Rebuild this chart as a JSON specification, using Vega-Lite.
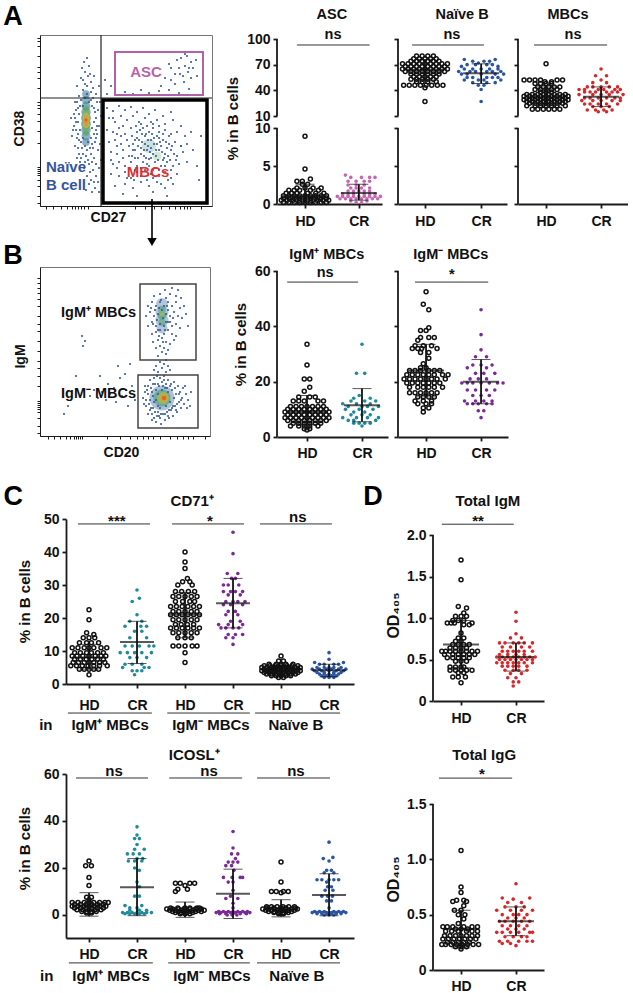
{"$schema":"https://vega.github.io/schema/vega-lite/v6.json","padding":0,"background":"white","spacing":22,
"config":{"view":{"stroke":null},"axis":{"grid":false,"labelOverlap":false,"domainColor":"#1a1a1a","tickColor":"#1a1a1a","domainWidth":1.8,"tickWidth":1.8,"tickSize":4,"labelFont":"Liberation Sans","labelFontWeight":"bold","labelFontSize":14,"labelColor":"#111","titleFont":"Liberation Sans","titleFontWeight":"bold","titleFontSize":15,"titleColor":"#111"},"text":{"font":"Liberation Sans","fontWeight":"bold","fontSize":14.5,"color":"#111"}},
"datasets":{
"fa":[{"x":36,"y":120},{"x":40,"y":128},{"x":44,"y":134},{"x":48,"y":140},{"x":42,"y":116},{"x":50,"y":124},{"x":46,"y":112},{"x":52,"y":118},{"x":38,"y":110},{"x":55,"y":112},{"x":44,"y":122},{"x":47,"y":130},{"x":41,"y":138},{"x":53,"y":130},{"x":58,"y":120},{"x":34,"y":104},{"x":37,"y":98},{"x":33,"y":92},{"x":35,"y":84},{"x":32,"y":76},{"x":36,"y":68},{"x":34,"y":60},{"x":38,"y":52},{"x":36,"y":104},{"x":56,"y":104},{"x":57,"y":96},{"x":55,"y":88},{"x":58,"y":80},{"x":56,"y":72},{"x":54,"y":64},{"x":57,"y":56},{"x":53,"y":48},{"x":39,"y":44},{"x":43,"y":38},{"x":48,"y":42},{"x":52,"y":36},{"x":46,"y":30},{"x":50,"y":26},{"x":55,"y":30},{"x":42,"y":52},{"x":46,"y":56},{"x":50,"y":52},{"x":44,"y":60},{"x":52,"y":58},{"x":40,"y":64},{"x":50,"y":68},{"x":48,"y":22},{"x":54,"y":18},{"x":51,"y":14},{"x":57,"y":24},{"x":58,"y":38},{"x":60,"y":46},{"x":59,"y":62},{"x":30,"y":88},{"x":31,"y":70},{"x":60,"y":90},{"x":59,"y":104},{"x":42,"y":100},{"x":50,"y":106},{"x":38,"y":92},{"x":53,"y":98},{"x":39,"y":76},{"x":51,"y":78},{"x":36,"y":48},{"x":47,"y":46},{"x":55,"y":42},{"x":58,"y":14},{"x":45,"y":16},{"x":40,"y":106},{"x":44,"y":108},{"x":48,"y":104},{"x":52,"y":108},{"x":35,"y":96},{"x":39,"y":100},{"x":51,"y":100},{"x":54,"y":94},{"x":34,"y":88},{"x":37,"y":84},{"x":53,"y":84},{"x":56,"y":80},{"x":33,"y":80},{"x":37,"y":72},{"x":53,"y":72},{"x":55,"y":76},{"x":35,"y":76},{"x":38,"y":66},{"x":42,"y":68},{"x":47,"y":64},{"x":51,"y":62},{"x":55,"y":68},{"x":41,"y":58},{"x":49,"y":58},{"x":37,"y":58},{"x":45,"y":50},{"x":40,"y":48},{"x":51,"y":44},{"x":44,"y":44},{"x":49,"y":34},{"x":53,"y":24},{"x":42,"y":126},{"x":46,"y":120},{"x":50,"y":114},{"x":43,"y":144},{"x":46,"y":148},{"x":49,"y":132},
{"x":66,"y":98},{"x":72,"y":95},{"x":78,"y":100},{"x":84,"y":96},{"x":90,"y":99},{"x":96,"y":94},{"x":102,"y":98},{"x":108,"y":92},{"x":114,"y":96},{"x":122,"y":90},{"x":130,"y":94},{"x":68,"y":88},{"x":74,"y":84},{"x":80,"y":90},{"x":86,"y":86},{"x":92,"y":90},{"x":98,"y":84},{"x":104,"y":88},{"x":110,"y":84},{"x":116,"y":86},{"x":124,"y":82},{"x":132,"y":86},{"x":140,"y":80},{"x":66,"y":76},{"x":72,"y":74},{"x":78,"y":78},{"x":84,"y":72},{"x":90,"y":78},{"x":96,"y":74},{"x":102,"y":78},{"x":108,"y":74},{"x":112,"y":78},{"x":118,"y":74},{"x":124,"y":76},{"x":130,"y":72},{"x":136,"y":74},{"x":144,"y":70},{"x":150,"y":74},{"x":68,"y":64},{"x":74,"y":66},{"x":80,"y":62},{"x":86,"y":66},{"x":92,"y":62},{"x":98,"y":66},{"x":104,"y":62},{"x":110,"y":66},{"x":116,"y":62},{"x":122,"y":66},{"x":128,"y":62},{"x":134,"y":64},{"x":140,"y":60},{"x":146,"y":62},{"x":70,"y":54},{"x":76,"y":52},{"x":82,"y":56},{"x":88,"y":50},{"x":94,"y":56},{"x":100,"y":52},{"x":106,"y":56},{"x":112,"y":52},{"x":118,"y":56},{"x":124,"y":52},{"x":130,"y":56},{"x":136,"y":50},{"x":142,"y":54},{"x":72,"y":42},{"x":78,"y":44},{"x":84,"y":40},{"x":90,"y":44},{"x":96,"y":40},{"x":102,"y":44},{"x":108,"y":40},{"x":114,"y":44},{"x":120,"y":40},{"x":126,"y":44},{"x":132,"y":40},{"x":138,"y":42},{"x":146,"y":44},{"x":70,"y":32},{"x":78,"y":30},{"x":84,"y":34},{"x":90,"y":28},{"x":96,"y":34},{"x":118,"y":30},{"x":124,"y":34},{"x":130,"y":28},{"x":136,"y":32},{"x":74,"y":20},{"x":84,"y":22},{"x":92,"y":18},{"x":100,"y":24},{"x":108,"y":20},{"x":116,"y":24},{"x":124,"y":18},{"x":132,"y":22},{"x":82,"y":12},{"x":96,"y":10},{"x":112,"y":14},{"x":126,"y":10},{"x":104,"y":70},{"x":107,"y":60},{"x":100,"y":58},{"x":113,"y":68},{"x":110,"y":58},{"x":105,"y":48},{"x":115,"y":50},{"x":96,"y":68},{"x":120,"y":60},{"x":101,"y":72},{"x":108,"y":47},{"x":94,"y":48},{"x":118,"y":68},{"x":126,"y":58},{"x":88,"y":60},{"x":91,"y":70},{"x":122,"y":46},{"x":104,"y":36},{"x":110,"y":32},{"x":114,"y":38},{"x":82,"y":80},{"x":76,"y":60},{"x":95,"y":80},{"x":100,"y":82},{"x":106,"y":80},{"x":112,"y":82},{"x":118,"y":80},{"x":99,"y":76},{"x":105,"y":72},{"x":111,"y":72},{"x":116,"y":70},{"x":122,"y":72},{"x":128,"y":70},{"x":94,"y":66},{"x":101,"y":64},{"x":107,"y":66},{"x":113,"y":62},{"x":119,"y":64},{"x":125,"y":64},{"x":131,"y":60},{"x":92,"y":56},{"x":97,"y":60},{"x":103,"y":56},{"x":109,"y":54},{"x":115,"y":56},{"x":121,"y":54},{"x":127,"y":50},{"x":133,"y":52},{"x":91,"y":50},{"x":97,"y":48},{"x":103,"y":50},{"x":110,"y":48},{"x":117,"y":46},{"x":123,"y":48},{"x":129,"y":46},{"x":135,"y":46},{"x":88,"y":38},{"x":94,"y":36},{"x":100,"y":38},{"x":106,"y":42},{"x":112,"y":36},{"x":118,"y":36},{"x":124,"y":40},{"x":130,"y":36},{"x":86,"y":28},{"x":93,"y":26},{"x":100,"y":30},{"x":106,"y":26},{"x":112,"y":28},{"x":120,"y":22},{"x":127,"y":26},{"x":72,"y":88},{"x":76,"y":72},{"x":80,"y":70},{"x":70,"y":46},{"x":76,"y":38},{"x":82,"y":48},
{"x":66,"y":112},{"x":70,"y":120},{"x":64,"y":126},{"x":84,"y":114},{"x":92,"y":112},{"x":100,"y":116},{"x":108,"y":113},{"x":118,"y":115},{"x":128,"y":116},{"x":138,"y":113},{"x":148,"y":117},{"x":124,"y":128},{"x":130,"y":126},{"x":134,"y":132},{"x":138,"y":138},{"x":142,"y":130},{"x":144,"y":140},{"x":147,"y":134},{"x":150,"y":144},{"x":136,"y":146},{"x":140,"y":148},{"x":146,"y":150},{"x":152,"y":138},{"x":155,"y":146},{"x":130,"y":138},{"x":128,"y":142},{"x":143,"y":124},{"x":150,"y":128},{"x":156,"y":130},{"x":120,"y":120},{"x":134,"y":122},{"x":144,"y":152},{"x":148,"y":138},{"x":139,"y":132},{"x":140,"y":60},{"x":152,"y":56},{"x":156,"y":40},{"x":160,"y":70},{"x":158,"y":26}],
"fb":[{"x":24,"y":22},{"x":28,"y":30},{"x":36,"y":60},{"x":42,"y":100},{"x":45,"y":95},{"x":43,"y":90},{"x":50,"y":40},{"x":54,"y":46},{"x":58,"y":38},{"x":60,"y":60},{"x":62,"y":44},{"x":66,"y":36},{"x":68,"y":52},{"x":70,"y":42},{"x":74,"y":48},{"x":76,"y":34},{"x":80,"y":58},{"x":82,"y":40},{"x":86,"y":46},{"x":88,"y":30},{"x":90,"y":72},{"x":92,"y":50},{"x":95,"y":36},{"x":85,"y":62},{"x":78,"y":70},
{"x":103,"y":38},{"x":105,"y":44},{"x":106,"y":30},{"x":108,"y":50},{"x":108,"y":22},{"x":110,"y":36},{"x":110,"y":56},{"x":111,"y":28},{"x":112,"y":44},{"x":112,"y":16},{"x":113,"y":52},{"x":114,"y":34},{"x":114,"y":58},{"x":115,"y":24},{"x":116,"y":46},{"x":116,"y":14},{"x":117,"y":60},{"x":118,"y":30},{"x":118,"y":52},{"x":119,"y":20},{"x":120,"y":58},{"x":121,"y":12},{"x":122,"y":54},{"x":123,"y":22},{"x":124,"y":60},{"x":125,"y":16},{"x":126,"y":52},{"x":127,"y":24},{"x":128,"y":56},{"x":129,"y":18},{"x":130,"y":50},{"x":131,"y":26},{"x":132,"y":46},{"x":133,"y":20},{"x":134,"y":54},{"x":135,"y":30},{"x":136,"y":42},{"x":137,"y":24},{"x":138,"y":50},{"x":139,"y":34},{"x":140,"y":44},{"x":141,"y":28},{"x":142,"y":38},{"x":143,"y":48},{"x":144,"y":32},{"x":146,"y":42},{"x":148,"y":36},{"x":150,"y":30},{"x":151,"y":44},{"x":110,"y":26},{"x":113,"y":40},{"x":116,"y":36},{"x":118,"y":42},{"x":120,"y":28},{"x":126,"y":30},{"x":128,"y":44},{"x":130,"y":34},{"x":134,"y":38},{"x":136,"y":26},{"x":122,"y":46},{"x":125,"y":48},{"x":118,"y":24},{"x":132,"y":28},{"x":114,"y":18},{"x":108,"y":42},{"x":106,"y":36},{"x":107,"y":46},{"x":109,"y":32},{"x":111,"y":48},{"x":113,"y":28},{"x":115,"y":52},{"x":117,"y":20},{"x":119,"y":50},{"x":121,"y":22},{"x":123,"y":50},{"x":125,"y":22},{"x":127,"y":48},{"x":129,"y":26},{"x":131,"y":52},{"x":133,"y":30},{"x":135,"y":48},{"x":137,"y":32},{"x":139,"y":42},{"x":141,"y":36},{"x":105,"y":50},{"x":112,"y":22},{"x":104,"y":32},{"x":145,"y":50},{"x":147,"y":28},{"x":124,"y":56},{"x":120,"y":18},{"x":128,"y":20},
{"x":118,"y":64},{"x":122,"y":68},{"x":126,"y":64},{"x":116,"y":70},{"x":124,"y":72},{"x":128,"y":70},{"x":120,"y":74},{"x":130,"y":66},{"x":114,"y":66},{"x":126,"y":76},
{"x":118,"y":80},{"x":122,"y":84},{"x":126,"y":82},{"x":116,"y":88},{"x":120,"y":90},{"x":124,"y":88},{"x":128,"y":86},{"x":113,"y":94},{"x":118,"y":96},{"x":122,"y":98},{"x":126,"y":94},{"x":130,"y":92},{"x":134,"y":96},{"x":112,"y":102},{"x":116,"y":104},{"x":120,"y":106},{"x":124,"y":102},{"x":128,"y":106},{"x":132,"y":102},{"x":136,"y":100},{"x":108,"y":110},{"x":112,"y":114},{"x":116,"y":110},{"x":120,"y":112},{"x":124,"y":110},{"x":128,"y":114},{"x":132,"y":110},{"x":136,"y":112},{"x":140,"y":108},{"x":106,"y":120},{"x":110,"y":124},{"x":114,"y":120},{"x":118,"y":122},{"x":126,"y":122},{"x":130,"y":120},{"x":134,"y":124},{"x":138,"y":120},{"x":142,"y":118},{"x":108,"y":130},{"x":112,"y":134},{"x":116,"y":130},{"x":120,"y":134},{"x":124,"y":130},{"x":128,"y":134},{"x":132,"y":130},{"x":136,"y":134},{"x":140,"y":128},{"x":144,"y":130},{"x":114,"y":140},{"x":120,"y":142},{"x":126,"y":138},{"x":130,"y":142},{"x":136,"y":140},{"x":141,"y":138},{"x":132,"y":148},{"x":138,"y":146},{"x":125,"y":146},{"x":146,"y":122},{"x":148,"y":110},{"x":117,"y":116},{"x":123,"y":118},{"x":122,"y":126},{"x":126,"y":114},{"x":119,"y":128},{"x":115,"y":126},{"x":128,"y":126},{"x":113,"y":112},{"x":130,"y":114},{"x":118,"y":106},{"x":125,"y":106},{"x":119,"y":100},{"x":123,"y":94},{"x":121,"y":136},{"x":127,"y":130},{"x":111,"y":128},{"x":133,"y":118}],
"a1h":[{"x":0.6,"y":0.2},{"x":0.7,"y":0.2},{"x":0.8,"y":0.2},{"x":0.9,"y":0.2},{"x":1,"y":0.2},{"x":1.1,"y":0.2},{"x":1.2,"y":0.2},{"x":1.3,"y":0.2},{"x":1.4,"y":0.2},{"x":0.56,"y":0.5},{"x":0.67,"y":0.5},{"x":0.78,"y":0.5},{"x":0.89,"y":0.5},{"x":1,"y":0.5},{"x":1.11,"y":0.5},{"x":1.22,"y":0.5},{"x":1.33,"y":0.5},{"x":1.44,"y":0.5},{"x":0.6,"y":0.8},{"x":0.7,"y":0.8},{"x":0.8,"y":0.8},{"x":0.9,"y":0.8},{"x":1,"y":0.8},{"x":1.1,"y":0.8},{"x":1.2,"y":0.8},{"x":1.3,"y":0.8},{"x":1.4,"y":0.8},{"x":0.6,"y":1.1},{"x":0.7,"y":1.1},{"x":0.8,"y":1.1},{"x":0.9,"y":1.1},{"x":1,"y":1.1},{"x":1.1,"y":1.1},{"x":1.2,"y":1.1},{"x":1.3,"y":1.1},{"x":1.4,"y":1.1},{"x":0.65,"y":1.4},{"x":0.75,"y":1.4},{"x":0.85,"y":1.4},{"x":1.05,"y":1.4},{"x":1.2,"y":1.4},{"x":1.35,"y":1.4},{"x":0.7,"y":1.8},{"x":0.8,"y":1.8},{"x":0.9,"y":1.8},{"x":1.1,"y":1.8},{"x":1.25,"y":1.8},{"x":0.85,"y":2.1},{"x":1,"y":2.1},{"x":1.15,"y":2.1},{"x":1.3,"y":2.1},{"x":0.95,"y":2.6},{"x":1.05,"y":2.6},{"x":0.85,"y":3},{"x":0.95,"y":3},{"x":1.1,"y":3.3},{"x":1,"y":4.6},{"x":1,"y":8.9}],
"a1c":[{"x":1.95,"y":0.2},{"x":2.05,"y":0.2},{"x":1.85,"y":0.4},{"x":2.15,"y":0.4},{"x":1.65,"y":0.7},{"x":1.75,"y":0.7},{"x":1.85,"y":0.7},{"x":1.95,"y":0.7},{"x":2.05,"y":0.7},{"x":2.15,"y":0.7},{"x":2.25,"y":0.7},{"x":2.35,"y":0.7},{"x":1.6,"y":1},{"x":1.7,"y":1},{"x":1.8,"y":1},{"x":1.9,"y":1},{"x":2,"y":1},{"x":2.1,"y":1},{"x":2.2,"y":1},{"x":2.3,"y":1},{"x":2.4,"y":1},{"x":1.7,"y":1.3},{"x":1.8,"y":1.3},{"x":1.9,"y":1.3},{"x":2.1,"y":1.3},{"x":2.2,"y":1.3},{"x":2.3,"y":1.3},{"x":1.8,"y":1.7},{"x":1.9,"y":1.7},{"x":2,"y":1.7},{"x":2.1,"y":1.7},{"x":2.2,"y":1.7},{"x":1.85,"y":2.1},{"x":1.95,"y":2.1},{"x":2.05,"y":2.1},{"x":2.2,"y":2.1},{"x":1.8,"y":2.5},{"x":1.95,"y":2.5},{"x":2.1,"y":2.5},{"x":1.8,"y":3},{"x":1.95,"y":3},{"x":2.1,"y":3},{"x":2.2,"y":3},{"x":1.85,"y":3.5},{"x":2.05,"y":3.5},{"x":2.2,"y":3.5},{"x":2.3,"y":3.5},{"x":1.75,"y":3.8}],
"a2h":[{"x":0.85,"y":80},{"x":0.95,"y":80},{"x":1.05,"y":80},{"x":1.15,"y":80},{"x":0.8,"y":77},{"x":0.9,"y":77},{"x":1,"y":77},{"x":1.1,"y":77},{"x":1.2,"y":77},{"x":0.75,"y":74},{"x":0.85,"y":74},{"x":0.95,"y":74},{"x":1.05,"y":74},{"x":1.15,"y":74},{"x":1.25,"y":74},{"x":0.6,"y":71},{"x":0.7,"y":71},{"x":0.8,"y":71},{"x":0.9,"y":71},{"x":1,"y":71},{"x":1.1,"y":71},{"x":1.2,"y":71},{"x":1.3,"y":71},{"x":1.4,"y":71},{"x":0.65,"y":68},{"x":0.75,"y":68},{"x":0.85,"y":68},{"x":0.95,"y":68},{"x":1.05,"y":68},{"x":1.15,"y":68},{"x":1.25,"y":68},{"x":1.35,"y":68},{"x":0.6,"y":65},{"x":0.7,"y":65},{"x":0.8,"y":65},{"x":0.9,"y":65},{"x":1,"y":65},{"x":1.1,"y":65},{"x":1.2,"y":65},{"x":1.3,"y":65},{"x":1.4,"y":65},{"x":0.65,"y":62},{"x":0.75,"y":62},{"x":0.85,"y":62},{"x":0.95,"y":62},{"x":1.05,"y":62},{"x":1.15,"y":62},{"x":1.25,"y":62},{"x":1.35,"y":62},{"x":0.75,"y":59},{"x":0.85,"y":59},{"x":0.95,"y":59},{"x":1.05,"y":59},{"x":1.15,"y":59},{"x":1.25,"y":59},{"x":0.8,"y":56},{"x":0.9,"y":56},{"x":1,"y":56},{"x":1.1,"y":56},{"x":1.2,"y":56},{"x":0.75,"y":53},{"x":0.85,"y":53},{"x":0.95,"y":53},{"x":1.05,"y":53},{"x":1.15,"y":53},{"x":0.85,"y":50},{"x":0.95,"y":50},{"x":1.05,"y":50},{"x":1.2,"y":50},{"x":0.62,"y":46},{"x":0.72,"y":46},{"x":0.82,"y":46},{"x":0.92,"y":46},{"x":1.02,"y":46},{"x":1.12,"y":46},{"x":1.22,"y":46},{"x":1.32,"y":46},{"x":1,"y":43},{"x":1,"y":27}],
"a2c":[{"x":1.7,"y":76},{"x":2.25,"y":76},{"x":1.85,"y":74},{"x":2.05,"y":74},{"x":2.15,"y":74},{"x":1.95,"y":72},{"x":1.75,"y":70},{"x":1.9,"y":70},{"x":2.1,"y":70},{"x":2.2,"y":70},{"x":1.65,"y":68},{"x":2.3,"y":68},{"x":1.7,"y":65},{"x":1.85,"y":65},{"x":2,"y":65},{"x":2.15,"y":65},{"x":2.3,"y":65},{"x":1.6,"y":62},{"x":1.8,"y":62},{"x":1.9,"y":62},{"x":2.1,"y":62},{"x":2.2,"y":62},{"x":2.35,"y":62},{"x":1.65,"y":59},{"x":1.75,"y":59},{"x":2,"y":59},{"x":2.25,"y":59},{"x":2.4,"y":59},{"x":1.75,"y":55},{"x":1.85,"y":55},{"x":2.1,"y":55},{"x":2.2,"y":55},{"x":2.3,"y":55},{"x":1.7,"y":52},{"x":1.95,"y":52},{"x":2.05,"y":52},{"x":2.35,"y":52},{"x":1.85,"y":49},{"x":2.1,"y":49},{"x":2.25,"y":49},{"x":1.95,"y":46},{"x":2.05,"y":46},{"x":2,"y":41},{"x":2,"y":27}],
"a3h":[{"x":1,"y":71},{"x":0.6,"y":52},{"x":0.7,"y":52},{"x":0.8,"y":52},{"x":0.9,"y":52},{"x":1.2,"y":52},{"x":1.3,"y":52},{"x":0.98,"y":50},{"x":1.1,"y":50},{"x":0.8,"y":48},{"x":0.9,"y":48},{"x":1,"y":48},{"x":1.1,"y":48},{"x":0.85,"y":44},{"x":0.95,"y":44},{"x":1.05,"y":44},{"x":1.15,"y":44},{"x":1.25,"y":44},{"x":0.8,"y":41},{"x":0.9,"y":41},{"x":1,"y":41},{"x":1.1,"y":41},{"x":1.2,"y":41},{"x":0.9,"y":38},{"x":1,"y":38},{"x":1.1,"y":38},{"x":0.65,"y":35},{"x":0.75,"y":35},{"x":0.85,"y":35},{"x":0.95,"y":35},{"x":1.05,"y":35},{"x":1.15,"y":35},{"x":1.25,"y":35},{"x":1.35,"y":35},{"x":0.6,"y":33},{"x":0.7,"y":33},{"x":0.8,"y":33},{"x":0.9,"y":33},{"x":1,"y":33},{"x":1.1,"y":33},{"x":1.2,"y":33},{"x":1.3,"y":33},{"x":1.4,"y":33},{"x":0.65,"y":31},{"x":0.75,"y":31},{"x":0.85,"y":31},{"x":0.95,"y":31},{"x":1.05,"y":31},{"x":1.15,"y":31},{"x":1.25,"y":31},{"x":1.35,"y":31},{"x":0.6,"y":29},{"x":0.7,"y":29},{"x":0.8,"y":29},{"x":0.9,"y":29},{"x":1,"y":29},{"x":1.1,"y":29},{"x":1.2,"y":29},{"x":1.3,"y":29},{"x":1.4,"y":29},{"x":0.65,"y":27},{"x":0.75,"y":27},{"x":0.85,"y":27},{"x":0.95,"y":27},{"x":1.05,"y":27},{"x":1.15,"y":27},{"x":1.25,"y":27},{"x":1.35,"y":27},{"x":0.7,"y":25},{"x":0.8,"y":25},{"x":0.9,"y":25},{"x":1,"y":25},{"x":1.1,"y":25},{"x":1.2,"y":25},{"x":1.3,"y":25},{"x":0.65,"y":22},{"x":0.8,"y":22},{"x":0.9,"y":22},{"x":1,"y":22},{"x":1.1,"y":22},{"x":1.2,"y":22},{"x":1.35,"y":22},{"x":0.75,"y":18},{"x":0.85,"y":18},{"x":0.95,"y":18},{"x":1.05,"y":18},{"x":1.15,"y":18},{"x":1.25,"y":18}],
"a3c":[{"x":2,"y":65},{"x":1.9,"y":57},{"x":2.1,"y":57},{"x":2,"y":52},{"x":1.85,"y":49},{"x":2.1,"y":49},{"x":1.75,"y":44},{"x":1.85,"y":44},{"x":2,"y":44},{"x":2.15,"y":44},{"x":2.3,"y":44},{"x":1.6,"y":41},{"x":1.7,"y":41},{"x":1.95,"y":41},{"x":2.05,"y":41},{"x":2.25,"y":41},{"x":2.35,"y":41},{"x":1.7,"y":38},{"x":1.8,"y":38},{"x":1.9,"y":38},{"x":2.1,"y":38},{"x":2.2,"y":38},{"x":2.3,"y":38},{"x":1.6,"y":35},{"x":1.85,"y":35},{"x":2,"y":35},{"x":2.15,"y":35},{"x":2.4,"y":35},{"x":1.7,"y":31},{"x":1.8,"y":31},{"x":1.95,"y":31},{"x":2.1,"y":31},{"x":2.25,"y":31},{"x":2.35,"y":31},{"x":1.65,"y":28},{"x":1.85,"y":28},{"x":2,"y":28},{"x":2.2,"y":28},{"x":2.35,"y":28},{"x":1.7,"y":24},{"x":1.8,"y":24},{"x":1.95,"y":24},{"x":2.1,"y":24},{"x":2.3,"y":24},{"x":1.85,"y":21},{"x":2,"y":21},{"x":2.15,"y":21},{"x":1.75,"y":17},{"x":1.9,"y":17},{"x":2.05,"y":17},{"x":2.2,"y":17},{"x":1.95,"y":15},{"x":2.1,"y":15}],
"b1h":[{"x":1,"y":33.5},{"x":1,"y":26},{"x":0.95,"y":21},{"x":1.05,"y":21},{"x":1.05,"y":18},{"x":0.95,"y":16.5},{"x":0.85,"y":14.5},{"x":1.05,"y":14.5},{"x":1.15,"y":14.5},{"x":0.75,"y":13},{"x":0.85,"y":13},{"x":0.95,"y":13},{"x":1.2,"y":13},{"x":1.3,"y":13},{"x":0.7,"y":11},{"x":0.8,"y":11},{"x":0.9,"y":11},{"x":1,"y":11},{"x":1.1,"y":11},{"x":1.2,"y":11},{"x":1.3,"y":11},{"x":0.65,"y":10},{"x":0.75,"y":10},{"x":0.85,"y":10},{"x":0.95,"y":10},{"x":1.05,"y":10},{"x":1.15,"y":10},{"x":1.25,"y":10},{"x":1.35,"y":10},{"x":0.6,"y":9},{"x":0.7,"y":9},{"x":0.8,"y":9},{"x":0.9,"y":9},{"x":1,"y":9},{"x":1.1,"y":9},{"x":1.2,"y":9},{"x":1.3,"y":9},{"x":1.4,"y":9},{"x":0.65,"y":8},{"x":0.75,"y":8},{"x":0.85,"y":8},{"x":0.95,"y":8},{"x":1.05,"y":8},{"x":1.15,"y":8},{"x":1.25,"y":8},{"x":1.35,"y":8},{"x":0.6,"y":7},{"x":0.7,"y":7},{"x":0.8,"y":7},{"x":0.9,"y":7},{"x":1,"y":7},{"x":1.1,"y":7},{"x":1.2,"y":7},{"x":1.3,"y":7},{"x":1.4,"y":7},{"x":0.65,"y":6},{"x":0.75,"y":6},{"x":0.85,"y":6},{"x":0.95,"y":6},{"x":1.05,"y":6},{"x":1.15,"y":6},{"x":1.25,"y":6},{"x":1.35,"y":6},{"x":0.75,"y":5},{"x":0.85,"y":5},{"x":0.95,"y":5},{"x":1.05,"y":5},{"x":1.15,"y":5},{"x":1.25,"y":5},{"x":0.7,"y":4},{"x":0.85,"y":4},{"x":0.95,"y":4},{"x":1.05,"y":4},{"x":1.2,"y":4},{"x":0.95,"y":3},{"x":1.05,"y":3},{"x":1,"y":2.5}],
"b1c":[{"x":2,"y":33.5},{"x":1.9,"y":23},{"x":2.05,"y":23},{"x":1.95,"y":15},{"x":1.85,"y":14},{"x":2.15,"y":14},{"x":1.8,"y":13},{"x":2.05,"y":13},{"x":2.25,"y":13},{"x":1.65,"y":12},{"x":1.9,"y":12},{"x":2.15,"y":12},{"x":1.75,"y":11},{"x":2,"y":11},{"x":2.1,"y":11},{"x":2.3,"y":11},{"x":1.7,"y":10},{"x":1.95,"y":10},{"x":2.2,"y":10},{"x":1.85,"y":9},{"x":2.05,"y":9},{"x":1.8,"y":8},{"x":2,"y":8},{"x":2.15,"y":8},{"x":1.65,"y":7},{"x":1.9,"y":7},{"x":2.1,"y":7},{"x":2.3,"y":7},{"x":1.75,"y":6},{"x":1.85,"y":6},{"x":2.25,"y":6},{"x":1.85,"y":5},{"x":1.95,"y":5},{"x":2.05,"y":5},{"x":2.15,"y":5},{"x":2,"y":4}],
"b2h":[{"x":1,"y":52.5},{"x":0.95,"y":48},{"x":1.05,"y":46},{"x":1.05,"y":39.5},{"x":0.9,"y":38.5},{"x":1,"y":38.5},{"x":0.9,"y":36},{"x":1.05,"y":36},{"x":1.15,"y":36},{"x":0.85,"y":35},{"x":0.8,"y":33},{"x":0.95,"y":33},{"x":1.1,"y":33},{"x":0.75,"y":32},{"x":0.85,"y":32},{"x":0.92,"y":32},{"x":1.2,"y":32},{"x":0.9,"y":30.5},{"x":1.05,"y":30.5},{"x":1.05,"y":28.5},{"x":0.95,"y":26.5},{"x":0.9,"y":25},{"x":1,"y":25},{"x":0.7,"y":24},{"x":0.8,"y":24},{"x":0.9,"y":24},{"x":1.05,"y":24},{"x":1.15,"y":24},{"x":1.25,"y":24},{"x":0.65,"y":22.5},{"x":0.75,"y":22.5},{"x":0.85,"y":22.5},{"x":0.95,"y":22.5},{"x":1.05,"y":22.5},{"x":1.15,"y":22.5},{"x":1.3,"y":22.5},{"x":1.4,"y":22.5},{"x":0.6,"y":21},{"x":0.7,"y":21},{"x":0.8,"y":21},{"x":0.9,"y":21},{"x":1,"y":21},{"x":1.1,"y":21},{"x":1.2,"y":21},{"x":1.35,"y":21},{"x":0.65,"y":19.5},{"x":0.75,"y":19.5},{"x":0.85,"y":19.5},{"x":0.95,"y":19.5},{"x":1.05,"y":19.5},{"x":1.15,"y":19.5},{"x":1.25,"y":19.5},{"x":0.7,"y":18},{"x":0.85,"y":18},{"x":0.95,"y":18},{"x":1.05,"y":18},{"x":1.15,"y":18},{"x":1.3,"y":18},{"x":0.7,"y":16},{"x":0.8,"y":16},{"x":0.9,"y":16},{"x":1,"y":16},{"x":1.1,"y":16},{"x":1.2,"y":16},{"x":0.85,"y":14.5},{"x":0.95,"y":14.5},{"x":1.05,"y":14.5},{"x":1.15,"y":14.5},{"x":0.8,"y":13},{"x":0.95,"y":13},{"x":1.1,"y":13},{"x":0.85,"y":12},{"x":1,"y":12},{"x":1.1,"y":12},{"x":0.95,"y":10.5},{"x":1.05,"y":10.5},{"x":0.95,"y":9}],
"b2c":[{"x":2,"y":46},{"x":2,"y":37},{"x":2,"y":31.5},{"x":1.9,"y":29},{"x":2.1,"y":29},{"x":1.85,"y":26},{"x":2,"y":26},{"x":2.2,"y":26},{"x":1.75,"y":25},{"x":2.1,"y":25},{"x":1.9,"y":23},{"x":2.05,"y":23},{"x":2.25,"y":23},{"x":1.8,"y":21},{"x":1.95,"y":21},{"x":2.1,"y":21},{"x":1.65,"y":19.5},{"x":1.75,"y":19.5},{"x":1.85,"y":19.5},{"x":2,"y":19.5},{"x":2.15,"y":19.5},{"x":2.3,"y":19.5},{"x":2.4,"y":19.5},{"x":1.75,"y":17},{"x":1.9,"y":17},{"x":2.1,"y":17},{"x":2.25,"y":17},{"x":1.85,"y":15},{"x":2,"y":15},{"x":2.15,"y":15},{"x":1.7,"y":13},{"x":1.9,"y":13},{"x":2.05,"y":13},{"x":2.2,"y":13},{"x":1.75,"y":12},{"x":1.85,"y":12},{"x":1.95,"y":12},{"x":2.1,"y":12},{"x":2.2,"y":12},{"x":1.95,"y":9.5},{"x":2.05,"y":9.5},{"x":2,"y":7}],
"c1h":[{"x":1,"y":22.5},{"x":1,"y":19.5},{"x":0.95,"y":15.5},{"x":1.1,"y":15},{"x":0.88,"y":14},{"x":1,"y":14},{"x":1.12,"y":14},{"x":0.8,"y":12.5},{"x":0.95,"y":12.5},{"x":1.05,"y":12.5},{"x":1.2,"y":12.5},{"x":0.65,"y":11},{"x":0.77,"y":11},{"x":0.9,"y":11},{"x":1,"y":11},{"x":1.1,"y":11},{"x":1.25,"y":11},{"x":1.37,"y":11},{"x":0.7,"y":9.5},{"x":0.82,"y":9.5},{"x":0.95,"y":9.5},{"x":1.05,"y":9.5},{"x":1.18,"y":9.5},{"x":1.3,"y":9.5},{"x":0.65,"y":8.5},{"x":0.75,"y":8.5},{"x":0.87,"y":8.5},{"x":1,"y":8.5},{"x":1.13,"y":8.5},{"x":1.25,"y":8.5},{"x":1.35,"y":8.5},{"x":0.7,"y":7.5},{"x":0.82,"y":7.5},{"x":0.94,"y":7.5},{"x":1.06,"y":7.5},{"x":1.18,"y":7.5},{"x":1.3,"y":7.5},{"x":0.67,"y":6.5},{"x":0.78,"y":6.5},{"x":0.9,"y":6.5},{"x":1,"y":6.5},{"x":1.1,"y":6.5},{"x":1.22,"y":6.5},{"x":1.33,"y":6.5},{"x":0.62,"y":5.5},{"x":0.74,"y":5.5},{"x":0.86,"y":5.5},{"x":0.98,"y":5.5},{"x":1.1,"y":5.5},{"x":1.22,"y":5.5},{"x":1.38,"y":5.5},{"x":0.8,"y":4.5},{"x":0.9,"y":4.5},{"x":1,"y":4.5},{"x":1.1,"y":4.5},{"x":1.2,"y":4.5},{"x":1,"y":2.8}],
"c1c":[{"x":2,"y":28.5},{"x":2.05,"y":26},{"x":1.9,"y":25},{"x":2,"y":21},{"x":1.85,"y":19},{"x":2.1,"y":19},{"x":1.75,"y":17.5},{"x":2.08,"y":17.5},{"x":2.2,"y":17.5},{"x":1.95,"y":16},{"x":2.1,"y":16},{"x":1.85,"y":14},{"x":2.2,"y":14},{"x":1.75,"y":11.5},{"x":1.9,"y":11.5},{"x":2.05,"y":11.5},{"x":2.25,"y":11.5},{"x":2.35,"y":11.5},{"x":1.65,"y":9.5},{"x":1.8,"y":9.5},{"x":1.95,"y":9.5},{"x":2.1,"y":9.5},{"x":2.3,"y":9.5},{"x":1.85,"y":8},{"x":2,"y":8},{"x":2.2,"y":8},{"x":1.75,"y":6},{"x":1.9,"y":6},{"x":2.1,"y":6},{"x":1.7,"y":5},{"x":2.15,"y":5},{"x":2.25,"y":5},{"x":1.9,"y":4},{"x":2,"y":4},{"x":2.1,"y":4},{"x":1.95,"y":2.8}],
"c2h":[{"x":3,"y":40},{"x":3,"y":37},{"x":3,"y":35},{"x":3.05,"y":32},{"x":2.95,"y":31},{"x":3.1,"y":31},{"x":2.85,"y":30},{"x":3.15,"y":30},{"x":2.8,"y":28},{"x":2.93,"y":28},{"x":3.07,"y":28},{"x":3.2,"y":28},{"x":2.75,"y":26.5},{"x":2.87,"y":26.5},{"x":3,"y":26.5},{"x":3.13,"y":26.5},{"x":3.25,"y":26.5},{"x":2.8,"y":25},{"x":2.95,"y":25},{"x":3.1,"y":25},{"x":3.2,"y":25},{"x":2.7,"y":23.5},{"x":2.82,"y":23.5},{"x":2.94,"y":23.5},{"x":3.06,"y":23.5},{"x":3.18,"y":23.5},{"x":3.3,"y":23.5},{"x":2.75,"y":22},{"x":2.87,"y":22},{"x":3,"y":22},{"x":3.13,"y":22},{"x":3.25,"y":22},{"x":2.7,"y":21},{"x":2.82,"y":21},{"x":2.94,"y":21},{"x":3.06,"y":21},{"x":3.18,"y":21},{"x":3.3,"y":21},{"x":2.75,"y":19.5},{"x":2.87,"y":19.5},{"x":3,"y":19.5},{"x":3.13,"y":19.5},{"x":3.25,"y":19.5},{"x":2.8,"y":18},{"x":2.92,"y":18},{"x":3.05,"y":18},{"x":3.18,"y":18},{"x":2.7,"y":17},{"x":2.82,"y":17},{"x":2.94,"y":17},{"x":3.06,"y":17},{"x":3.18,"y":17},{"x":3.3,"y":17},{"x":2.75,"y":15.5},{"x":2.87,"y":15.5},{"x":3,"y":15.5},{"x":3.13,"y":15.5},{"x":3.25,"y":15.5},{"x":2.85,"y":14},{"x":3,"y":14},{"x":3.13,"y":14},{"x":2.75,"y":11.5},{"x":2.87,"y":11.5},{"x":3,"y":11.5},{"x":3.15,"y":11.5},{"x":3.25,"y":11.5},{"x":3,"y":9.5},{"x":3,"y":6.5}],
"c2c":[{"x":4,"y":46},{"x":4,"y":39.5},{"x":3.88,"y":33.5},{"x":4.1,"y":33.5},{"x":3.97,"y":32},{"x":4.05,"y":32},{"x":3.8,"y":30},{"x":3.9,"y":30},{"x":4.12,"y":30},{"x":3.8,"y":28},{"x":3.95,"y":28},{"x":4.05,"y":28},{"x":4.2,"y":28},{"x":3.9,"y":27},{"x":4.15,"y":27},{"x":3.85,"y":25},{"x":4,"y":25},{"x":4.1,"y":25},{"x":4.25,"y":25},{"x":3.8,"y":24},{"x":3.95,"y":24},{"x":4.2,"y":24},{"x":3.9,"y":22},{"x":4.05,"y":22},{"x":3.85,"y":21},{"x":4.1,"y":21},{"x":3.95,"y":19},{"x":4.15,"y":19},{"x":3.7,"y":18},{"x":3.9,"y":18},{"x":4.2,"y":18},{"x":3.75,"y":17},{"x":3.85,"y":17},{"x":4,"y":17},{"x":4.12,"y":17},{"x":3.9,"y":15},{"x":4.05,"y":15},{"x":4.2,"y":15},{"x":3.85,"y":14},{"x":4,"y":14},{"x":4,"y":12}],
"c3h":[{"x":5,"y":8.5},{"x":4.95,"y":7},{"x":5.05,"y":7},{"x":4.75,"y":6},{"x":4.9,"y":6},{"x":5,"y":6},{"x":5.1,"y":6},{"x":5.25,"y":6},{"x":4.65,"y":5.5},{"x":4.77,"y":5.5},{"x":4.88,"y":5.5},{"x":5,"y":5.5},{"x":5.12,"y":5.5},{"x":5.23,"y":5.5},{"x":5.35,"y":5.5},{"x":4.6,"y":5},{"x":4.7,"y":5},{"x":4.8,"y":5},{"x":4.9,"y":5},{"x":5,"y":5},{"x":5.1,"y":5},{"x":5.2,"y":5},{"x":5.3,"y":5},{"x":5.4,"y":5},{"x":4.65,"y":4.5},{"x":4.75,"y":4.5},{"x":4.85,"y":4.5},{"x":4.95,"y":4.5},{"x":5.05,"y":4.5},{"x":5.15,"y":4.5},{"x":5.25,"y":4.5},{"x":5.35,"y":4.5},{"x":4.6,"y":4},{"x":4.7,"y":4},{"x":4.8,"y":4},{"x":4.9,"y":4},{"x":5,"y":4},{"x":5.1,"y":4},{"x":5.2,"y":4},{"x":5.3,"y":4},{"x":5.4,"y":4},{"x":4.65,"y":3.5},{"x":4.75,"y":3.5},{"x":4.85,"y":3.5},{"x":4.95,"y":3.5},{"x":5.05,"y":3.5},{"x":5.15,"y":3.5},{"x":5.25,"y":3.5},{"x":5.35,"y":3.5},{"x":4.7,"y":3},{"x":4.8,"y":3},{"x":4.9,"y":3},{"x":5,"y":3},{"x":5.1,"y":3},{"x":5.2,"y":3},{"x":5.3,"y":3},{"x":4.8,"y":2.5},{"x":4.9,"y":2.5},{"x":5,"y":2.5},{"x":5.1,"y":2.5},{"x":5.2,"y":2.5},{"x":4.95,"y":2},{"x":5.05,"y":2}],
"c3c":[{"x":6,"y":9.5},{"x":6,"y":7.5},{"x":5.7,"y":6.5},{"x":6.3,"y":6.5},{"x":5.8,"y":6},{"x":5.9,"y":6},{"x":6.1,"y":6},{"x":6.2,"y":6},{"x":5.75,"y":5},{"x":5.9,"y":5},{"x":6,"y":5},{"x":6.1,"y":5},{"x":6.25,"y":5},{"x":5.65,"y":4.5},{"x":5.8,"y":4.5},{"x":5.95,"y":4.5},{"x":6.05,"y":4.5},{"x":6.2,"y":4.5},{"x":6.35,"y":4.5},{"x":5.7,"y":4},{"x":5.85,"y":4},{"x":6,"y":4},{"x":6.15,"y":4},{"x":6.3,"y":4},{"x":5.75,"y":3.5},{"x":5.9,"y":3.5},{"x":6.1,"y":3.5},{"x":6.25,"y":3.5},{"x":5.8,"y":3},{"x":5.9,"y":3},{"x":6,"y":3},{"x":6.1,"y":3},{"x":6.2,"y":3},{"x":5.85,"y":2.5},{"x":5.95,"y":2.5},{"x":6.05,"y":2.5},{"x":6.15,"y":2.5},{"x":5.9,"y":2},{"x":6,"y":2},{"x":6.1,"y":2}],
"i1h":[{"x":1,"y":23},{"x":0.93,"y":21},{"x":1.05,"y":21},{"x":1,"y":16},{"x":1,"y":12.5},{"x":0.95,"y":7.5},{"x":1.05,"y":7.5},{"x":1,"y":6.5},{"x":0.65,"y":5.3},{"x":0.77,"y":5.3},{"x":0.9,"y":5.3},{"x":1,"y":5.3},{"x":1.1,"y":5.3},{"x":1.22,"y":5.3},{"x":1.33,"y":5.3},{"x":1.4,"y":5.3},{"x":0.7,"y":4.5},{"x":0.82,"y":4.5},{"x":0.94,"y":4.5},{"x":1.06,"y":4.5},{"x":1.18,"y":4.5},{"x":1.3,"y":4.5},{"x":0.65,"y":3.7},{"x":0.77,"y":3.7},{"x":0.9,"y":3.7},{"x":1,"y":3.7},{"x":1.1,"y":3.7},{"x":1.22,"y":3.7},{"x":1.35,"y":3.7},{"x":0.7,"y":3},{"x":0.82,"y":3},{"x":0.94,"y":3},{"x":1.06,"y":3},{"x":1.18,"y":3},{"x":1.3,"y":3},{"x":0.75,"y":2.2},{"x":0.87,"y":2.2},{"x":1,"y":2.2},{"x":1.13,"y":2.2},{"x":1.25,"y":2.2},{"x":0.85,"y":1.5},{"x":0.95,"y":1.5},{"x":1.05,"y":1.5},{"x":1.15,"y":1.5},{"x":0.95,"y":0.8},{"x":1.05,"y":0.8}],
"i1c":[{"x":2,"y":37.5},{"x":2,"y":34},{"x":1.95,"y":32.5},{"x":2.05,"y":32.5},{"x":2,"y":30},{"x":1.95,"y":28},{"x":2.15,"y":28},{"x":1.8,"y":26},{"x":1.92,"y":26},{"x":2.05,"y":26},{"x":2,"y":24},{"x":2.12,"y":24},{"x":1.82,"y":23},{"x":1.95,"y":23},{"x":2.1,"y":23},{"x":1.95,"y":20},{"x":2.05,"y":19},{"x":2,"y":14},{"x":2.05,"y":12},{"x":1.95,"y":8},{"x":2.05,"y":8},{"x":1.75,"y":4},{"x":2.1,"y":4},{"x":1.85,"y":3},{"x":2,"y":3},{"x":1.85,"y":2},{"x":2.05,"y":2},{"x":2.2,"y":2},{"x":1.7,"y":1},{"x":1.8,"y":1},{"x":1.9,"y":1},{"x":2,"y":1},{"x":2.1,"y":1},{"x":2.2,"y":1},{"x":2.3,"y":1},{"x":1.75,"y":0.5},{"x":1.85,"y":0.5},{"x":1.95,"y":0.5},{"x":2.05,"y":0.5},{"x":2.15,"y":0.5}],
"i2h":[{"x":2.8,"y":13.5},{"x":2.9,"y":13.5},{"x":3.1,"y":13.5},{"x":3.2,"y":13.5},{"x":3,"y":12.5},{"x":2.85,"y":11},{"x":3.05,"y":11},{"x":2.8,"y":10},{"x":2.7,"y":3},{"x":2.85,"y":3},{"x":3,"y":3},{"x":3.1,"y":3},{"x":3.25,"y":3},{"x":3.3,"y":3},{"x":2.62,"y":2.5},{"x":2.74,"y":2.5},{"x":2.86,"y":2.5},{"x":2.98,"y":2.5},{"x":3.1,"y":2.5},{"x":3.22,"y":2.5},{"x":3.34,"y":2.5},{"x":2.68,"y":2},{"x":2.8,"y":2},{"x":2.92,"y":2},{"x":3.04,"y":2},{"x":3.16,"y":2},{"x":3.28,"y":2},{"x":3.4,"y":2},{"x":2.74,"y":1.5},{"x":2.86,"y":1.5},{"x":2.98,"y":1.5},{"x":3.1,"y":1.5},{"x":3.22,"y":1.5},{"x":3.34,"y":1.5},{"x":2.8,"y":1},{"x":2.92,"y":1},{"x":3.04,"y":1},{"x":3.16,"y":1},{"x":2.9,"y":0.5},{"x":3,"y":0.5},{"x":3.1,"y":0.5}],
"i2c":[{"x":4,"y":35.5},{"x":4,"y":28.5},{"x":3.97,"y":26},{"x":4.1,"y":26},{"x":4.05,"y":24},{"x":3.9,"y":22.5},{"x":4,"y":22.5},{"x":4.1,"y":22.5},{"x":3.85,"y":21},{"x":3.97,"y":21},{"x":4.02,"y":19},{"x":3.8,"y":16},{"x":3.98,"y":16},{"x":4.15,"y":16},{"x":4.2,"y":16},{"x":3.9,"y":14},{"x":4,"y":14},{"x":4,"y":10.5},{"x":3.95,"y":8},{"x":3.85,"y":7},{"x":4.1,"y":7},{"x":4,"y":5},{"x":4,"y":3},{"x":3.7,"y":1.5},{"x":3.8,"y":1.5},{"x":3.9,"y":1.5},{"x":4,"y":1.5},{"x":4.1,"y":1.5},{"x":4.2,"y":1.5},{"x":4.3,"y":1.5},{"x":3.65,"y":1},{"x":3.75,"y":1},{"x":3.85,"y":1},{"x":3.95,"y":1},{"x":4.05,"y":1},{"x":4.15,"y":1},{"x":4.25,"y":1},{"x":4.35,"y":1},{"x":3.72,"y":0.5},{"x":3.85,"y":0.5},{"x":4,"y":0.5},{"x":4.15,"y":0.5},{"x":4.28,"y":0.5},{"x":3.88,"y":0},{"x":3.98,"y":0},{"x":4.08,"y":0}],
"i3h":[{"x":5,"y":22.5},{"x":5,"y":14},{"x":4.8,"y":10},{"x":4.9,"y":10},{"x":5.05,"y":10},{"x":5.15,"y":10},{"x":5,"y":9.5},{"x":4.7,"y":3.5},{"x":4.8,"y":3.5},{"x":4.92,"y":3.5},{"x":5.04,"y":3.5},{"x":5.16,"y":3.5},{"x":5.28,"y":3.5},{"x":4.7,"y":3},{"x":4.85,"y":3},{"x":5,"y":3},{"x":5.1,"y":3},{"x":5.3,"y":3},{"x":4.62,"y":2.5},{"x":4.74,"y":2.5},{"x":4.86,"y":2.5},{"x":4.98,"y":2.5},{"x":5.1,"y":2.5},{"x":5.22,"y":2.5},{"x":5.34,"y":2.5},{"x":4.68,"y":2},{"x":4.8,"y":2},{"x":4.92,"y":2},{"x":5.04,"y":2},{"x":5.16,"y":2},{"x":5.28,"y":2},{"x":4.74,"y":1.5},{"x":4.86,"y":1.5},{"x":4.98,"y":1.5},{"x":5.1,"y":1.5},{"x":5.22,"y":1.5},{"x":4.85,"y":1},{"x":4.95,"y":1},{"x":5.05,"y":1},{"x":5.15,"y":1},{"x":4.95,"y":0.5},{"x":5.05,"y":0.5}],
"i3c":[{"x":6,"y":31},{"x":6.08,"y":24.5},{"x":5.88,"y":24},{"x":6,"y":23},{"x":5.95,"y":19},{"x":6.05,"y":19},{"x":5.9,"y":18},{"x":6.1,"y":18},{"x":5.75,"y":15},{"x":5.85,"y":15},{"x":6,"y":15},{"x":6.1,"y":15},{"x":6.2,"y":15},{"x":5.95,"y":14},{"x":5.97,"y":12},{"x":6.05,"y":12},{"x":5.92,"y":10.5},{"x":6.08,"y":10.5},{"x":5.85,"y":8},{"x":5.97,"y":8},{"x":6.07,"y":8},{"x":5.95,"y":6},{"x":6.05,"y":6},{"x":6,"y":3},{"x":5.7,"y":1.5},{"x":5.8,"y":1.5},{"x":5.9,"y":1.5},{"x":6.1,"y":1.5},{"x":6.2,"y":1.5},{"x":6.3,"y":1.5},{"x":5.65,"y":1},{"x":5.75,"y":1},{"x":5.85,"y":1},{"x":5.95,"y":1},{"x":6.05,"y":1},{"x":6.15,"y":1},{"x":6.25,"y":1},{"x":6.35,"y":1},{"x":5.75,"y":0.5},{"x":5.85,"y":0.5},{"x":5.95,"y":0.5},{"x":6.05,"y":0.5},{"x":6.15,"y":0.5},{"x":6.25,"y":0.5},{"x":5.9,"y":0},{"x":6,"y":0},{"x":6.1,"y":0}],
"dmh":[{"x":1,"y":1.7},{"x":1,"y":1.46},{"x":0.95,"y":1.14},{"x":1.1,"y":1.12},{"x":1.05,"y":1.06},{"x":0.9,"y":1.02},{"x":1,"y":1.02},{"x":1.1,"y":1.02},{"x":0.85,"y":0.97},{"x":0.95,"y":0.97},{"x":1.05,"y":0.97},{"x":0.75,"y":0.94},{"x":0.82,"y":0.94},{"x":0.88,"y":0.94},{"x":1.2,"y":0.94},{"x":1.05,"y":0.92},{"x":1.15,"y":0.92},{"x":1,"y":0.82},{"x":0.95,"y":0.76},{"x":1.05,"y":0.76},{"x":0.9,"y":0.72},{"x":1,"y":0.72},{"x":0.85,"y":0.68},{"x":0.95,"y":0.68},{"x":1.05,"y":0.68},{"x":1.15,"y":0.68},{"x":0.8,"y":0.64},{"x":0.9,"y":0.64},{"x":1,"y":0.64},{"x":1.1,"y":0.64},{"x":0.65,"y":0.6},{"x":0.72,"y":0.6},{"x":0.8,"y":0.6},{"x":0.9,"y":0.6},{"x":1,"y":0.6},{"x":1.1,"y":0.6},{"x":1.2,"y":0.6},{"x":1.3,"y":0.6},{"x":0.7,"y":0.56},{"x":0.85,"y":0.56},{"x":0.95,"y":0.56},{"x":1.05,"y":0.56},{"x":1.15,"y":0.56},{"x":1.25,"y":0.56},{"x":0.75,"y":0.52},{"x":0.85,"y":0.52},{"x":0.95,"y":0.52},{"x":1.05,"y":0.52},{"x":1.15,"y":0.52},{"x":0.9,"y":0.48},{"x":1,"y":0.48},{"x":1.1,"y":0.48},{"x":0.8,"y":0.41},{"x":0.9,"y":0.41},{"x":1,"y":0.41},{"x":1.05,"y":0.41},{"x":0.8,"y":0.37},{"x":0.9,"y":0.37},{"x":1,"y":0.37},{"x":1.1,"y":0.37},{"x":1.2,"y":0.37},{"x":0.95,"y":0.34},{"x":1.05,"y":0.34},{"x":0.85,"y":0.29},{"x":0.95,"y":0.29},{"x":1.08,"y":0.29},{"x":1,"y":0.22}],
"dmc":[{"x":2,"y":1.07},{"x":2,"y":0.96},{"x":2,"y":0.81},{"x":1.9,"y":0.76},{"x":2.1,"y":0.76},{"x":1.7,"y":0.7},{"x":1.8,"y":0.7},{"x":1.95,"y":0.7},{"x":2.05,"y":0.7},{"x":2.15,"y":0.7},{"x":2.3,"y":0.7},{"x":1.75,"y":0.65},{"x":1.9,"y":0.65},{"x":2.1,"y":0.65},{"x":2.25,"y":0.65},{"x":1.75,"y":0.6},{"x":1.85,"y":0.6},{"x":1.95,"y":0.6},{"x":2.05,"y":0.6},{"x":2.15,"y":0.6},{"x":2.3,"y":0.6},{"x":1.7,"y":0.56},{"x":1.85,"y":0.56},{"x":2,"y":0.56},{"x":2.15,"y":0.56},{"x":1.65,"y":0.53},{"x":1.75,"y":0.53},{"x":1.85,"y":0.53},{"x":1.95,"y":0.53},{"x":2.05,"y":0.53},{"x":2.15,"y":0.53},{"x":2.25,"y":0.53},{"x":2.35,"y":0.53},{"x":1.7,"y":0.5},{"x":1.8,"y":0.5},{"x":1.9,"y":0.5},{"x":2,"y":0.5},{"x":2.1,"y":0.5},{"x":2.2,"y":0.5},{"x":2.3,"y":0.5},{"x":1.65,"y":0.46},{"x":1.75,"y":0.46},{"x":1.85,"y":0.46},{"x":1.95,"y":0.46},{"x":2.05,"y":0.46},{"x":2.15,"y":0.46},{"x":2.3,"y":0.46},{"x":1.75,"y":0.42},{"x":1.85,"y":0.42},{"x":1.95,"y":0.42},{"x":2.05,"y":0.42},{"x":2.2,"y":0.42},{"x":1.8,"y":0.37},{"x":1.95,"y":0.37},{"x":2.05,"y":0.37},{"x":2.2,"y":0.37},{"x":1.9,"y":0.33},{"x":2.1,"y":0.33},{"x":1.85,"y":0.28},{"x":2,"y":0.28},{"x":1.95,"y":0.23},{"x":2.05,"y":0.23},{"x":1.95,"y":0.18}],
"dgh":[{"x":1,"y":1.08},{"x":1,"y":0.75},{"x":1,"y":0.7},{"x":0.92,"y":0.63},{"x":1.05,"y":0.63},{"x":0.85,"y":0.62},{"x":1.1,"y":0.62},{"x":1.05,"y":0.58},{"x":0.88,"y":0.54},{"x":1,"y":0.54},{"x":0.95,"y":0.5},{"x":1.07,"y":0.5},{"x":1.05,"y":0.46},{"x":0.95,"y":0.42},{"x":0.67,"y":0.39},{"x":0.75,"y":0.39},{"x":0.85,"y":0.39},{"x":1.05,"y":0.39},{"x":1.2,"y":0.39},{"x":1.3,"y":0.39},{"x":0.9,"y":0.37},{"x":1,"y":0.37},{"x":1.12,"y":0.37},{"x":0.72,"y":0.35},{"x":0.83,"y":0.35},{"x":0.95,"y":0.35},{"x":1.1,"y":0.35},{"x":1.2,"y":0.35},{"x":1.3,"y":0.35},{"x":0.7,"y":0.31},{"x":0.8,"y":0.31},{"x":0.9,"y":0.31},{"x":1,"y":0.31},{"x":1.1,"y":0.31},{"x":1.2,"y":0.31},{"x":1.3,"y":0.31},{"x":0.67,"y":0.28},{"x":0.77,"y":0.28},{"x":0.87,"y":0.28},{"x":0.97,"y":0.28},{"x":1.07,"y":0.28},{"x":1.17,"y":0.28},{"x":1.27,"y":0.28},{"x":0.75,"y":0.25},{"x":0.85,"y":0.25},{"x":0.95,"y":0.25},{"x":1.05,"y":0.25},{"x":1.15,"y":0.25},{"x":0.65,"y":0.23},{"x":0.72,"y":0.23},{"x":0.82,"y":0.23},{"x":0.92,"y":0.23},{"x":1.02,"y":0.23},{"x":1.12,"y":0.23},{"x":1.22,"y":0.23},{"x":1.32,"y":0.23},{"x":0.9,"y":0.21},{"x":1,"y":0.21},{"x":1.1,"y":0.21},{"x":1,"y":0.19}],
"dgc":[{"x":2,"y":0.78},{"x":1.75,"y":0.65},{"x":2.25,"y":0.65},{"x":1.95,"y":0.64},{"x":1.85,"y":0.61},{"x":2.1,"y":0.61},{"x":1.8,"y":0.57},{"x":2,"y":0.57},{"x":2.15,"y":0.57},{"x":1.65,"y":0.54},{"x":1.9,"y":0.54},{"x":2.1,"y":0.54},{"x":2.3,"y":0.54},{"x":1.75,"y":0.5},{"x":1.95,"y":0.5},{"x":2.05,"y":0.5},{"x":2.2,"y":0.5},{"x":1.85,"y":0.47},{"x":2,"y":0.47},{"x":2.15,"y":0.47},{"x":1.7,"y":0.44},{"x":1.8,"y":0.44},{"x":1.95,"y":0.44},{"x":2.1,"y":0.44},{"x":2.25,"y":0.44},{"x":1.75,"y":0.4},{"x":1.9,"y":0.4},{"x":2.05,"y":0.4},{"x":2.2,"y":0.4},{"x":1.85,"y":0.37},{"x":2,"y":0.37},{"x":2.15,"y":0.37},{"x":1.65,"y":0.34},{"x":1.75,"y":0.34},{"x":1.9,"y":0.34},{"x":2.05,"y":0.34},{"x":2.25,"y":0.34},{"x":2.3,"y":0.34},{"x":1.8,"y":0.3},{"x":1.95,"y":0.3},{"x":2.1,"y":0.3},{"x":2.2,"y":0.3},{"x":1.7,"y":0.26},{"x":1.85,"y":0.26},{"x":2.05,"y":0.26},{"x":2.2,"y":0.26},{"x":2.3,"y":0.26},{"x":1.75,"y":0.24},{"x":1.9,"y":0.24},{"x":2,"y":0.22}]
},
"vconcat":[
{"bounds":"flush","columns":8,"spacing":0,"concat":[
{"width":40,"height":35,"mark":"point","data":{"values":[]}},{"width":1,"height":1,"mark":"point","data":{"values":[]}},{"width":65,"height":1,"mark":"point","data":{"values":[]}},{"width":1,"height":1,"mark":"point","data":{"values":[]}},{"width":10,"height":1,"mark":"point","data":{"values":[]}},{"width":1,"height":1,"mark":"point","data":{"values":[]}},{"width":10,"height":1,"mark":"point","data":{"values":[]}},{"width":1,"height":1,"mark":"point","data":{"values":[]}},
{"width":1,"height":1,"mark":"point","data":{"values":[]}},
{"width":172,"height":171,"view":{"stroke":"#777"},"encoding":{"x":{"field":"x","type":"quantitative","scale":{"domain":[-1,171],"nice":false},"axis":{"title":"CD27","titleX":68,"titleY":4,"titleFontSize":14,"labels":false,"tickSize":3,"tickWidth":1,"domainWidth":1,"values":[5,12,20,26,31,34,37,40,43,47,94,104,113,120,128,134,139,143,146,149,160]}},"y":{"field":"y","type":"quantitative","scale":{"domain":[0,171],"nice":false},"axis":{"title":"CD38","titleX":-14,"titleY":93,"titleFontSize":14,"labels":false,"tickSize":3,"tickWidth":1,"domainWidth":1,"values":[3,10,20,26,31,33,35,37,39,63,75,85,92,98,101,104,118,128,134,139,150,160,165,168]}}},"layer":[
 {"data":{"values":[{"x":45,"y":112,"s":60,"c":"#3f7d9c"},{"x":45,"y":106,"s":70,"c":"#3f7d9c"},{"x":45,"y":100,"s":80,"c":"#3f7d9c"},{"x":45,"y":94,"s":90,"c":"#3f7d9c"},{"x":45,"y":88,"s":100,"c":"#3f7d9c"},{"x":45,"y":82,"s":100,"c":"#3f7d9c"},{"x":45,"y":76,"s":90,"c":"#3f7d9c"},{"x":45,"y":70,"s":80,"c":"#3f7d9c"},{"x":45,"y":64,"s":60,"c":"#3f7d9c"},{"x":45,"y":98,"s":40,"c":"#62ad58"},{"x":45,"y":93,"s":50,"c":"#62ad58"},{"x":45,"y":88,"s":60,"c":"#62ad58"},{"x":45,"y":83,"s":60,"c":"#62ad58"},{"x":45,"y":78,"s":50,"c":"#62ad58"},{"x":45,"y":73,"s":40,"c":"#62ad58"},{"x":45,"y":90,"s":40,"c":"#d8c53a"},{"x":45,"y":86,"s":50,"c":"#d8c53a"},{"x":45,"y":81,"s":40,"c":"#d8c53a"},{"x":45,"y":88,"s":24,"c":"#ee8a2a"},{"x":45,"y":85,"s":28,"c":"#ee8a2a"},{"x":45,"y":82,"s":24,"c":"#ee8a2a"},{"x":45,"y":86,"s":8,"c":"#d83a22"},{"x":108,"y":60,"s":200,"c":"#a8cfc4"},{"x":116,"y":50,"s":80,"c":"#b6d8b0"}]},"mark":{"type":"circle","opacity":0.6},"encoding":{"size":{"field":"s","type":"quantitative","scale":null},"color":{"field":"c","type":"nominal","scale":null}}},
 {"data":{"name":"fa"},"mark":{"type":"square","size":4,"color":"#34589f","opacity":0.8}},
 {"data":{"values":[{"x":60,"y":0,"x2":60,"y2":171},{"x":-1,"y":108,"x2":171,"y2":108}]},"mark":{"type":"rule","stroke":"#222","strokeWidth":1.2},"encoding":{"x2":{"field":"x2"},"y2":{"field":"y2"}}},
 {"data":{"values":[{"x":74,"y":111,"x2":162,"y2":154}]},"mark":{"type":"rect","fill":null,"stroke":"#b262aa","strokeWidth":2},"encoding":{"x2":{"field":"x2"},"y2":{"field":"y2"}}},
 {"data":{"values":[{"x":62,"y":3,"x2":166,"y2":106}]},"mark":{"type":"rect","fill":null,"stroke":"#000","strokeWidth":3.5},"encoding":{"x2":{"field":"x2"},"y2":{"field":"y2"}}},
 {"data":{"values":[{"x":111,"y":7,"x2":111,"y2":-32}]},"mark":{"type":"rule","stroke":"#000","strokeWidth":1.6},"encoding":{"x2":{"field":"x2"},"y2":{"field":"y2"}}},
 {"data":{"values":[{"x":111,"y":-36}]},"mark":{"type":"point","shape":"triangle-down","filled":true,"fill":"#000","stroke":null,"size":90,"opacity":1}},
 {"data":{"values":[{"x":105,"y":134,"t":"ASC","c":"#b765a8"},{"x":25,"y":39,"t":"Naïve","c":"#3355a0"},{"x":25,"y":21,"t":"B cell","c":"#3355a0"},{"x":107,"y":34,"t":"MBCs","c":"#e03030"}]},"mark":{"type":"text","fontSize":15,"baseline":"middle"},"encoding":{"text":{"field":"t"},"color":{"field":"c","type":"nominal","scale":null}}},
 {"data":{"values":[{"x":-28,"y":189,"t":"A"}]},"mark":{"type":"text","fontSize":27,"baseline":"middle","color":"#000"},"encoding":{"text":{"field":"t"}}}
]},
{"width":1,"height":1,"mark":"point","data":{"values":[]}},
{"width":105,"height":171,"encoding":{"x":{"field":"x","type":"quantitative","scale":{"domain":[0.48,2.43],"nice":false},"axis":{"title":null,"values":[1,2],"labelExpr":"datum.value==1?'HD':'CR'","labelPadding":6,"offset":-2}},"y":{"field":"y","type":"quantitative","scale":{"domain":[0,10,10.001,100],"range":[169,93,81,4]},"axis":{"title":"% in B cells","titleX":-37,"titleY":83,"values":[0,5,10,10.001,40,70,100],"format":".0f","labelPadding":3,"domain":false}}},"layer":[
 {"data":{"name":"a1h"},"mark":{"type":"point","filled":false,"stroke":"#111","strokeWidth":1.5,"size":16,"opacity":1}},
 {"data":{"name":"a1c"},"mark":{"type":"circle","color":"#c766b0","size":13,"opacity":1}},
 {"data":{"values":[{"x":0.48,"y":0,"y2":10},{"x":0.48,"y":10.001,"y2":100}]},"mark":{"type":"rule","stroke":"#1a1a1a","strokeWidth":1.8},"encoding":{"y2":{"field":"y2"}}},
 {"data":{"values":[{"x":1,"y":1.1,"lo":0.1,"hi":2.6},{"x":2,"y":1.45,"lo":0.5,"hi":2.6}]},"mark":{"type":"errorbar","orient":"vertical","ticks":{"size":19,"color":"#111","strokeWidth":1.8},"rule":{"color":"#111","strokeWidth":1.8}},"encoding":{"y":{"field":"lo","type":"quantitative"},"y2":{"field":"hi"}}},
 {"data":{"values":[{"x":1,"y":1.1},{"x":2,"y":1.45}]},"mark":{"type":"tick","orient":"horizontal","size":36,"thickness":2,"color":"#111"}},
 {"data":{"values":[{"x":0.85,"x2":2.2,"y":93}]},"mark":{"type":"rule","stroke":"#333","strokeWidth":1},"encoding":{"x2":{"field":"x2"}}},
 {"data":{"values":[{"x":1.52,"y":104.7,"t":"ns"},{"x":1.5,"y":128,"t":"ASC"}]},"mark":{"type":"text","baseline":"middle"},"encoding":{"text":{"field":"t"}}}
]},
{"width":1,"height":1,"mark":"point","data":{"values":[]}},
{"width":109,"height":171,"encoding":{"x":{"field":"x","type":"quantitative","scale":{"domain":[0.52,2.46],"nice":false},"axis":{"title":null,"values":[1,2],"labelExpr":"datum.value==1?'HD':'CR'","labelPadding":6,"offset":-2}},"y":{"field":"y","type":"quantitative","scale":{"domain":[0,10,10.001,100],"range":[169,93,81,4]},"axis":{"title":null,"values":[0,5,10,10.001,40,70,100],"labels":false,"domain":false}}},"layer":[
 {"data":{"name":"a2h"},"mark":{"type":"point","filled":false,"stroke":"#111","strokeWidth":1.5,"size":16,"opacity":1}},
 {"data":{"name":"a2c"},"mark":{"type":"circle","color":"#2a55a5","size":13,"opacity":1}},
 {"data":{"values":[{"x":0.52,"y":0,"y2":10},{"x":0.52,"y":10.001,"y2":100}]},"mark":{"type":"rule","stroke":"#1a1a1a","strokeWidth":1.8},"encoding":{"y2":{"field":"y2"}}},
 {"data":{"values":[{"x":1,"y":64,"lo":52,"hi":76},{"x":2,"y":60,"lo":48,"hi":71}]},"mark":{"type":"errorbar","orient":"vertical","ticks":{"size":19,"color":"#111","strokeWidth":1.8},"rule":{"color":"#111","strokeWidth":1.8}},"encoding":{"y":{"field":"lo","type":"quantitative"},"y2":{"field":"hi"}}},
 {"data":{"values":[{"x":1,"y":64},{"x":2,"y":60}]},"mark":{"type":"tick","orient":"horizontal","size":36,"thickness":2,"color":"#111"}},
 {"data":{"values":[{"x":0.77,"x2":2.05,"y":93}]},"mark":{"type":"rule","stroke":"#333","strokeWidth":1},"encoding":{"x2":{"field":"x2"}}},
 {"data":{"values":[{"x":1.48,"y":104.7,"t":"ns"},{"x":1.66,"y":128,"t":"Naïve B"}]},"mark":{"type":"text","baseline":"middle"},"encoding":{"text":{"field":"t"}}}
]},
{"width":1,"height":1,"mark":"point","data":{"values":[]}},
{"width":110,"height":171,"encoding":{"x":{"field":"x","type":"quantitative","scale":{"domain":[0.49,2.49],"nice":false},"axis":{"title":null,"values":[1,2],"labelExpr":"datum.value==1?'HD':'CR'","labelPadding":6,"offset":-2}},"y":{"field":"y","type":"quantitative","scale":{"domain":[0,10,10.001,100],"range":[169,93,81,4]},"axis":{"title":null,"values":[0,5,10,10.001,40,70,100],"labels":false,"domain":false}}},"layer":[
 {"data":{"name":"a3h"},"mark":{"type":"point","filled":false,"stroke":"#111","strokeWidth":1.5,"size":16,"opacity":1}},
 {"data":{"name":"a3c"},"mark":{"type":"circle","color":"#d6282a","size":13,"opacity":1}},
 {"data":{"values":[{"x":0.49,"y":0,"y2":10},{"x":0.49,"y":10.001,"y2":100}]},"mark":{"type":"rule","stroke":"#1a1a1a","strokeWidth":1.8},"encoding":{"y2":{"field":"y2"}}},
 {"data":{"values":[{"x":1,"y":32,"lo":22,"hi":44},{"x":2,"y":32.5,"lo":21,"hi":44}]},"mark":{"type":"errorbar","orient":"vertical","ticks":{"size":19,"color":"#111","strokeWidth":1.8},"rule":{"color":"#111","strokeWidth":1.8}},"encoding":{"y":{"field":"lo","type":"quantitative"},"y2":{"field":"hi"}}},
 {"data":{"values":[{"x":1,"y":32},{"x":2,"y":32.5}]},"mark":{"type":"tick","orient":"horizontal","size":36,"thickness":2,"color":"#111"}},
 {"data":{"values":[{"x":0.78,"x2":2.11,"y":93}]},"mark":{"type":"rule","stroke":"#333","strokeWidth":1},"encoding":{"x2":{"field":"x2"}}},
 {"data":{"values":[{"x":1.49,"y":104.7,"t":"ns"},{"x":1.4,"y":128,"t":"MBCs"}]},"mark":{"type":"text","baseline":"middle"},"encoding":{"text":{"field":"t"}}}
]},
{"width":1,"height":61,"mark":"point","data":{"values":[]}},{"width":1,"height":1,"mark":"point","data":{"values":[]}},{"width":1,"height":1,"mark":"point","data":{"values":[]}},{"width":1,"height":1,"mark":"point","data":{"values":[]}},{"width":1,"height":1,"mark":"point","data":{"values":[]}},{"width":1,"height":1,"mark":"point","data":{"values":[]}},{"width":1,"height":1,"mark":"point","data":{"values":[]}},{"width":1,"height":1,"mark":"point","data":{"values":[]}},
{"width":1,"height":1,"mark":"point","data":{"values":[]}},
{"width":170,"height":169,"view":{"stroke":"#777"},"encoding":{"x":{"field":"x","type":"quantitative","scale":{"domain":[0,170],"nice":false},"axis":{"title":"CD20","titleX":81,"titleY":9,"titleFontSize":14,"labels":false,"tickSize":3,"tickWidth":1,"domainWidth":1,"values":[8,14,20,26,30,34,36,38,40,42,67,80,90,97,103,108,113,120,130,137,143,148,153,165]}},"y":{"field":"y","type":"quantitative","scale":{"domain":[0,169],"nice":false},"axis":{"title":"IgM","titleX":-13,"titleY":89,"titleFontSize":14,"labels":false,"tickSize":3,"tickWidth":1,"domainWidth":1,"values":[3,10,18,24,27,29,31,33,35,50,60,68,75,85,95,105,112,120,130,137,143,148,153,158]}}},"layer":[
 {"data":{"values":[{"x":122,"y":38,"s":620,"c":"#7f9fc0"},{"x":122,"y":38,"s":300,"c":"#4da07a"},{"x":123,"y":38,"s":140,"c":"#b4bf42"},{"x":124,"y":38,"s":64,"c":"#ec9a2a"},{"x":124,"y":38,"s":20,"c":"#da4a26"},{"x":122,"y":132,"s":140,"c":"#8aa6c4"},{"x":122,"y":124,"s":170,"c":"#8aa6c4"},{"x":122,"y":116,"s":170,"c":"#8aa6c4"},{"x":122,"y":108,"s":120,"c":"#8aa6c4"},{"x":122,"y":126,"s":60,"c":"#5aa87c"},{"x":122,"y":120,"s":70,"c":"#5aa87c"},{"x":122,"y":114,"s":50,"c":"#5aa87c"},{"x":122,"y":122,"s":18,"c":"#a8c24a"}]},"mark":{"type":"circle","opacity":0.65},"encoding":{"size":{"field":"s","type":"quantitative","scale":null},"color":{"field":"c","type":"nominal","scale":null}}},
 {"data":{"name":"fb"},"mark":{"type":"square","size":4,"color":"#34589f","opacity":0.8}},
 {"data":{"values":[{"x":100,"y":76,"x2":156,"y2":152},{"x":98,"y":8,"x2":158,"y2":61}]},"mark":{"type":"rect","fill":null,"stroke":"#444","strokeWidth":1.5},"encoding":{"x2":{"field":"x2"},"y2":{"field":"y2"}}},
 {"data":{"values":[{"x":21,"y":123,"t":"IgM⁺ MBCs"},{"x":21,"y":42,"t":"IgM⁻ MBCs"}]},"mark":{"type":"text","align":"left","baseline":"middle"},"encoding":{"text":{"field":"t"}}},
 {"data":{"values":[{"x":-27,"y":180,"t":"B"}]},"mark":{"type":"text","fontSize":27,"baseline":"middle","color":"#000"},"encoding":{"text":{"field":"t"}}}
]},
{"width":1,"height":1,"mark":"point","data":{"values":[]}},
{"width":111,"height":170,"encoding":{"x":{"field":"x","type":"quantitative","scale":{"domain":[0.4545,2.473],"nice":false},"axis":{"title":null,"values":[1,2],"labelExpr":"datum.value==1?'HD':'CR'","labelPadding":5}},"y":{"field":"y","type":"quantitative","scale":{"domain":[0,60],"range":[170,4]},"axis":{"title":"% in B cells","titleX":-29,"titleY":77,"values":[0,20,40,60],"labelPadding":3,"domain":false}}},"layer":[
 {"data":{"name":"b1h"},"mark":{"type":"point","filled":false,"stroke":"#111","strokeWidth":1.5,"size":16,"opacity":1}},
 {"data":{"name":"b1c"},"mark":{"type":"circle","color":"#1f8a9a","size":13,"opacity":1}},
 {"data":{"values":[{"x":0.4545,"y":0,"y2":60}]},"mark":{"type":"rule","stroke":"#1a1a1a","strokeWidth":1.8},"encoding":{"y2":{"field":"y2"}}},
 {"data":{"values":[{"x":1,"y":9,"lo":4.5,"hi":15},{"x":2,"y":11.5,"lo":5.5,"hi":17.5}]},"mark":{"type":"errorbar","orient":"vertical","ticks":{"size":19,"color":"#111","strokeWidth":1.8},"rule":{"color":"#111","strokeWidth":1.8}},"encoding":{"y":{"field":"lo","type":"quantitative"},"y2":{"field":"hi"}}},
 {"data":{"values":[{"x":1,"y":9},{"x":2,"y":11.5}]},"mark":{"type":"tick","orient":"horizontal","size":36,"thickness":2,"color":"#111"}},
 {"data":{"values":[{"x":0.64,"x2":1.93,"y":56}]},"mark":{"type":"rule","stroke":"#333","strokeWidth":1},"encoding":{"x2":{"field":"x2"}}},
 {"data":{"values":[{"x":1.33,"y":59.3,"t":"ns"},{"x":1.36,"y":65.8,"t":"IgM⁺ MBCs"}]},"mark":{"type":"text","baseline":"middle"},"encoding":{"text":{"field":"t"}}}
]},
{"width":1,"height":1,"mark":"point","data":{"values":[]}},
{"width":110,"height":170,"encoding":{"x":{"field":"x","type":"quantitative","scale":{"domain":[0.49,2.49],"nice":false},"axis":{"title":null,"values":[1,2],"labelExpr":"datum.value==1?'HD':'CR'","labelPadding":5}},"y":{"field":"y","type":"quantitative","scale":{"domain":[0,60],"range":[170,4]},"axis":{"title":null,"values":[0,20,40,60],"labels":false,"domain":false}}},"layer":[
 {"data":{"name":"b2h"},"mark":{"type":"point","filled":false,"stroke":"#111","strokeWidth":1.5,"size":16,"opacity":1}},
 {"data":{"name":"b2c"},"mark":{"type":"circle","color":"#7a2a96","size":13,"opacity":1}},
 {"data":{"values":[{"x":0.49,"y":0,"y2":60}]},"mark":{"type":"rule","stroke":"#1a1a1a","strokeWidth":1.8},"encoding":{"y2":{"field":"y2"}}},
 {"data":{"values":[{"x":1,"y":24,"lo":14.5,"hi":33.5},{"x":2,"y":20,"lo":12,"hi":28}]},"mark":{"type":"errorbar","orient":"vertical","ticks":{"size":19,"color":"#111","strokeWidth":1.8},"rule":{"color":"#111","strokeWidth":1.8}},"encoding":{"y":{"field":"lo","type":"quantitative"},"y2":{"field":"hi"}}},
 {"data":{"values":[{"x":1,"y":24},{"x":2,"y":20}]},"mark":{"type":"tick","orient":"horizontal","size":36,"thickness":2,"color":"#111"}},
 {"data":{"values":[{"x":0.8,"x2":2.13,"y":56}]},"mark":{"type":"rule","stroke":"#333","strokeWidth":1},"encoding":{"x2":{"field":"x2"}}},
 {"data":{"values":[{"x":1.47,"y":58.5,"t":"*"},{"x":1.45,"y":65.8,"t":"IgM⁻ MBCs"}]},"mark":{"type":"text","baseline":"middle"},"encoding":{"text":{"field":"t"}}}
]},
{"width":1,"height":1,"mark":"point","data":{"values":[]}},{"width":1,"height":1,"mark":"point","data":{"values":[]}}
]},
{"bounds":"flush","columns":4,"spacing":0,"concat":[
{"width":66,"height":1,"mark":"point","data":{"values":[]}},{"width":1,"height":1,"mark":"point","data":{"values":[]}},{"width":79,"height":1,"mark":"point","data":{"values":[]}},{"width":1,"height":1,"mark":"point","data":{"values":[]}},
{"width":1,"height":1,"mark":"point","data":{"values":[]}},
{"width":288,"height":165,"encoding":{"x":{"field":"x","type":"quantitative","scale":{"domain":[0.5208,6.52],"nice":false},"axis":{"title":null,"values":[1,2,3,4,5,6],"labelExpr":"datum.value%2==1?'HD':'CR'","labelPadding":10}},"y":{"field":"y","type":"quantitative","scale":{"domain":[0,50],"nice":false},"axis":{"title":"% in B cells","titleX":-34,"titleY":82,"values":[0,10,20,30,40,50],"labelPadding":3}}},"layer":[
 {"data":{"name":"c1h"},"mark":{"type":"point","filled":false,"stroke":"#111","strokeWidth":1.5,"size":16,"opacity":1}},
 {"data":{"name":"c2h"},"mark":{"type":"point","filled":false,"stroke":"#111","strokeWidth":1.5,"size":16,"opacity":1}},
 {"data":{"name":"c3h"},"mark":{"type":"point","filled":false,"stroke":"#111","strokeWidth":1.5,"size":16,"opacity":1}},
 {"data":{"name":"c1c"},"mark":{"type":"circle","color":"#1f8a9a","size":13,"opacity":1}},
 {"data":{"name":"c2c"},"mark":{"type":"circle","color":"#7a2a96","size":13,"opacity":1}},
 {"data":{"name":"c3c"},"mark":{"type":"circle","color":"#2a55a5","size":13,"opacity":1}},
 {"data":{"values":[{"x":1,"y":8,"lo":4.5,"hi":12},{"x":2,"y":12.7,"lo":6.2,"hi":19},{"x":3,"y":21,"lo":14,"hi":27.7},{"x":4,"y":24.5,"lo":17,"hi":32},{"x":5,"y":4,"lo":2.5,"hi":5.5},{"x":6,"y":4.2,"lo":2.2,"hi":6}]},"mark":{"type":"errorbar","orient":"vertical","ticks":{"size":19,"color":"#111","strokeWidth":1.8},"rule":{"color":"#111","strokeWidth":1.8}},"encoding":{"y":{"field":"lo","type":"quantitative"},"y2":{"field":"hi"}}},
 {"data":{"values":[{"x":1,"y":8},{"x":2,"y":12.7},{"x":3,"y":21},{"x":4,"y":24.5},{"x":5,"y":4},{"x":6,"y":4.2}]},"mark":{"type":"tick","orient":"horizontal","size":34,"thickness":2,"color":"#111"}},
 {"data":{"values":[{"x":0.77,"x2":2.27,"y":48.5},{"x":2.73,"x2":4.23,"y":48.5},{"x":4.56,"x2":6.06,"y":48.5},{"x":0.56,"x2":2.31,"y":-8.8},{"x":2.63,"x2":4.35,"y":-8.8},{"x":4.46,"x2":6.23,"y":-8.8}]},"mark":{"type":"rule","stroke":"#333","strokeWidth":1},"encoding":{"x2":{"field":"x2"}}},
 {"data":{"values":[{"x":1.58,"y":49.4,"t":"***"},{"x":3.52,"y":49.4,"t":"*"},{"x":5.35,"y":50.6,"t":"ns"},{"x":3.15,"y":55.5,"t":"CD71⁺"},{"x":0.1,"y":-12.4,"t":"in"},{"x":1.44,"y":-12.4,"t":"IgM⁺ MBCs"},{"x":3.54,"y":-12.4,"t":"IgM⁻ MBCs"},{"x":5.31,"y":-12.4,"t":"Naïve B"}]},"mark":{"type":"text","baseline":"middle","fontSize":15},"encoding":{"text":{"field":"t"}}},
 {"data":{"values":[{"x":-0.58,"y":56.7,"t":"C"}]},"mark":{"type":"text","fontSize":27,"baseline":"middle","color":"#000"},"encoding":{"text":{"field":"t"}}}
]},
{"width":1,"height":1,"mark":"point","data":{"values":[]}},
{"width":111,"height":182,"encoding":{"x":{"field":"x","type":"quantitative","scale":{"domain":[0.49,2.51],"nice":false},"axis":{"title":null,"values":[1,2],"labelExpr":"datum.value==1?'HD':'CR'","labelPadding":6}},"y":{"field":"y","type":"quantitative","scale":{"domain":[0,2],"range":[182,16]},"axis":{"title":"OD₄₀₅","titleX":-32,"titleY":96,"titleFontSize":16,"domain":false,"values":[0,0.5,1,1.5,2],"labelExpr":"datum.value==0?'0':format(datum.value,'.1f')","labelPadding":3}}},"layer":[
 {"data":{"name":"dmh"},"mark":{"type":"point","filled":false,"stroke":"#111","strokeWidth":1.5,"size":16,"opacity":1}},
 {"data":{"name":"dmc"},"mark":{"type":"circle","color":"#d6282a","size":13,"opacity":1}},
 {"data":{"values":[{"x":0.49,"y":0,"y2":2}]},"mark":{"type":"rule","stroke":"#1a1a1a","strokeWidth":1.8},"encoding":{"y2":{"field":"y2"}}},
 {"data":{"values":[{"x":1,"y":0.68,"lo":0.4,"hi":0.97},{"x":2,"y":0.53,"lo":0.36,"hi":0.7}]},"mark":{"type":"errorbar","orient":"vertical","ticks":{"size":19,"color":"#111","strokeWidth":1.8},"rule":{"color":"#111","strokeWidth":1.8}},"encoding":{"y":{"field":"lo","type":"quantitative"},"y2":{"field":"hi"}}},
 {"data":{"values":[{"x":1,"y":0.68},{"x":2,"y":0.53}]},"mark":{"type":"tick","orient":"horizontal","size":36,"thickness":2,"color":"#111"}},
 {"data":{"values":[{"x":0.65,"x2":1.96,"y":2.13}]},"mark":{"type":"rule","stroke":"#333","strokeWidth":1},"encoding":{"x2":{"field":"x2"}}},
 {"data":{"values":[{"x":1.31,"y":2.17,"t":"**"},{"x":1.49,"y":2.41,"t":"Total IgM"}]},"mark":{"type":"text","baseline":"middle","fontSize":15},"encoding":{"text":{"field":"t"}}},
 {"data":{"values":[{"x":-0.6,"y":2.458,"t":"D"}]},"mark":{"type":"text","fontSize":27,"baseline":"middle","color":"#000"},"encoding":{"text":{"field":"t"}}}
]},
{"width":1,"height":73,"mark":"point","data":{"values":[]}},{"width":1,"height":1,"mark":"point","data":{"values":[]}},{"width":1,"height":1,"mark":"point","data":{"values":[]}},{"width":1,"height":1,"mark":"point","data":{"values":[]}},
{"width":1,"height":1,"mark":"point","data":{"values":[]}},
{"width":288,"height":164,"encoding":{"x":{"field":"x","type":"quantitative","scale":{"domain":[0.5208,6.52],"nice":false},"axis":{"title":null,"values":[1,2,3,4,5,6],"labelExpr":"datum.value%2==1?'HD':'CR'","labelPadding":5}},"y":{"field":"y","type":"quantitative","scale":{"domain":[-9.8,60],"nice":false},"axis":{"title":"% in B cells","titleX":-34,"titleY":74,"values":[0,20,40,60],"labelPadding":3}}},"layer":[
 {"data":{"name":"i1h"},"mark":{"type":"point","filled":false,"stroke":"#111","strokeWidth":1.5,"size":16,"opacity":1}},
 {"data":{"name":"i2h"},"mark":{"type":"point","filled":false,"stroke":"#111","strokeWidth":1.5,"size":16,"opacity":1}},
 {"data":{"name":"i3h"},"mark":{"type":"point","filled":false,"stroke":"#111","strokeWidth":1.5,"size":16,"opacity":1}},
 {"data":{"name":"i1c"},"mark":{"type":"circle","color":"#1f8a9a","size":13,"opacity":1}},
 {"data":{"name":"i2c"},"mark":{"type":"circle","color":"#7a2a96","size":13,"opacity":1}},
 {"data":{"name":"i3c"},"mark":{"type":"circle","color":"#2a55a5","size":13,"opacity":1}},
 {"data":{"values":[{"x":1,"y":4,"lo":-0.5,"hi":9.5},{"x":2,"y":11.8,"lo":-0.3,"hi":24},{"x":3,"y":2.2,"lo":-1,"hi":5.5},{"x":4,"y":9,"lo":-1.5,"hi":19.5},{"x":5,"y":2.8,"lo":-0.8,"hi":6.5},{"x":6,"y":8.5,"lo":-0.3,"hi":17.5}]},"mark":{"type":"errorbar","orient":"vertical","ticks":{"size":19,"color":"#111","strokeWidth":1.8},"rule":{"color":"#111","strokeWidth":1.8}},"encoding":{"y":{"field":"lo","type":"quantitative"},"y2":{"field":"hi"}}},
 {"data":{"values":[{"x":1,"y":4},{"x":2,"y":11.8},{"x":3,"y":2.2},{"x":4,"y":9},{"x":5,"y":2.8},{"x":6,"y":8.5}]},"mark":{"type":"tick","orient":"horizontal","size":34,"thickness":2,"color":"#111"}},
 {"data":{"values":[{"x":0.73,"x2":2.23,"y":58.3},{"x":2.67,"x2":4.19,"y":58.3},{"x":4.5,"x2":6.02,"y":58.3},{"x":0.58,"x2":2.33,"y":-20.4},{"x":2.65,"x2":4.35,"y":-20.4},{"x":4.5,"x2":6.23,"y":-20.4}]},"mark":{"type":"rule","stroke":"#333","strokeWidth":1},"encoding":{"x2":{"field":"x2"}}},
 {"data":{"values":[{"x":1.52,"y":61.3,"t":"ns"},{"x":3.5,"y":61.3,"t":"ns"},{"x":5.31,"y":61.3,"t":"ns"},{"x":3.19,"y":68,"t":"ICOSL⁺"},{"x":0.12,"y":-26,"t":"in"},{"x":1.46,"y":-26,"t":"IgM⁺ MBCs"},{"x":3.56,"y":-26,"t":"IgM⁻ MBCs"},{"x":5.33,"y":-26,"t":"Naïve B"}]},"mark":{"type":"text","baseline":"middle","fontSize":15},"encoding":{"text":{"field":"t"}}}
]},
{"width":1,"height":1,"mark":"point","data":{"values":[]}},
{"width":111,"height":196,"encoding":{"x":{"field":"x","type":"quantitative","scale":{"domain":[0.49,2.51],"nice":false},"axis":{"title":null,"values":[1,2],"labelExpr":"datum.value==1?'HD':'CR'","labelPadding":5}},"y":{"field":"y","type":"quantitative","scale":{"domain":[0,1.5],"range":[196,30]},"axis":{"title":"OD₄₀₅","titleX":-32,"titleY":105,"titleFontSize":16,"domain":false,"values":[0,0.5,1,1.5],"labelExpr":"datum.value==0?'0':format(datum.value,'.1f')","labelPadding":3}}},"layer":[
 {"data":{"name":"dgh"},"mark":{"type":"point","filled":false,"stroke":"#111","strokeWidth":1.5,"size":16,"opacity":1}},
 {"data":{"name":"dgc"},"mark":{"type":"circle","color":"#d6282a","size":13,"opacity":1}},
 {"data":{"values":[{"x":0.49,"y":0,"y2":1.5}]},"mark":{"type":"rule","stroke":"#1a1a1a","strokeWidth":1.8},"encoding":{"y2":{"field":"y2"}}},
 {"data":{"values":[{"x":1,"y":0.37,"lo":0.2,"hi":0.54},{"x":2,"y":0.44,"lo":0.31,"hi":0.57}]},"mark":{"type":"errorbar","orient":"vertical","ticks":{"size":19,"color":"#111","strokeWidth":1.8},"rule":{"color":"#111","strokeWidth":1.8}},"encoding":{"y":{"field":"lo","type":"quantitative"},"y2":{"field":"hi"}}},
 {"data":{"values":[{"x":1,"y":0.37},{"x":2,"y":0.44}]},"mark":{"type":"tick","orient":"horizontal","size":36,"thickness":2,"color":"#111"}},
 {"data":{"values":[{"x":0.6,"x2":1.93,"y":1.734}]},"mark":{"type":"rule","stroke":"#333","strokeWidth":1},"encoding":{"x2":{"field":"x2"}}},
 {"data":{"values":[{"x":1.38,"y":1.77,"t":"*"},{"x":1.42,"y":1.94,"t":"Total IgG"}]},"mark":{"type":"text","baseline":"middle","fontSize":15},"encoding":{"text":{"field":"t"}}}
]}
]}
]}
